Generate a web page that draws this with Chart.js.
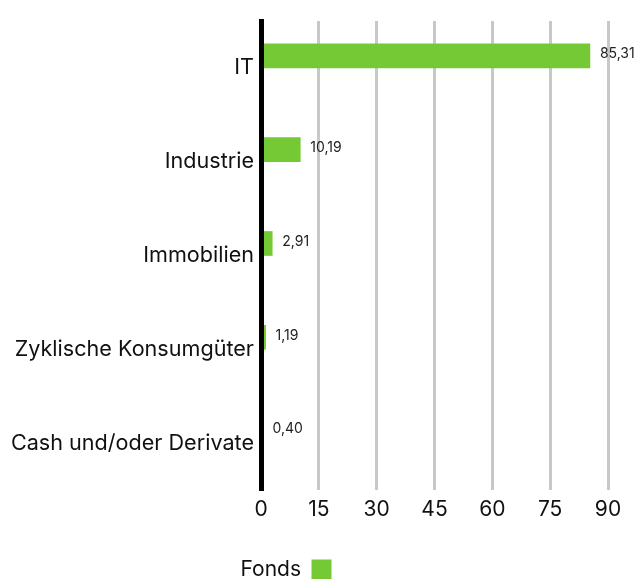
<!DOCTYPE html>
<html lang="de">
<head>
<meta charset="utf-8">
<title>Sektoren</title>
<script src="https://cdn.jsdelivr.net/npm/chart.js@4"></script>
<style>
  html, body { margin: 0; padding: 0; background: #fff; }
  #sectorChart { display: block; }
</style>
</head>
<body>
<canvas id="sectorChart" width="638" height="579"></canvas>
<script>
var sectorLabels = ["IT", "Industrie", "Immobilien", "Zyklische Konsumgüter", "Cash und/oder Derivate"];
var fondsValues = [85.31, 10.19, 2.91, 1.19, 0.40];
// comparison series has no values, it only reserves the second slot in each group
var vergleichValues = [null, null, null, null, null];
var axisTicks = [0, 15, 30, 45, 60, 75, 90];

var fontFamily = "Inter, 'Noto Sans', sans-serif";
var barGreen = "#74c935";

// number labels to the right of each bar, German decimal comma
var valueLabels = {
    id: "valueLabels",
    afterDatasetsDraw: function (chart) {
        var ctx = chart.ctx;
        var meta = chart.getDatasetMeta(0);
        ctx.save();
        ctx.font = "14px " + fontFamily;
        ctx.fillStyle = "#222";
        ctx.textAlign = "left";
        ctx.textBaseline = "middle";
        meta.data.forEach(function (bar, i) {
            var txt = fondsValues[i].toFixed(2).replace(".", ",");
            ctx.fillText(txt, bar.x + 10, bar.y - 2);
        });
        ctx.restore();
    }
};

// move the legend a bit to the left of the canvas centre
var legendShift = {
    id: "legendShift",
    afterLayout: function (chart) {
        chart.legend.left -= 18;
        chart.legend.right -= 18;
    }
};

new Chart("sectorChart", {
    type: "bar",
    data: {
        labels: sectorLabels,
        datasets: [{
            label: "Fonds",
            data: fondsValues,
            backgroundColor: barGreen,
            borderWidth: 0,
            barThickness: 24
        }, {
            label: "Vergleichsindex",
            data: vergleichValues,
            backgroundColor: "#000",
            borderWidth: 0,
            barThickness: 24
        }]
    },
    options: {
        indexAxis: "y",
        responsive: false,
        animation: false,
        events: [],
        layout: {
            padding: { top: 21, right: 30, bottom: -11, left: 0 }
        },
        scales: {
            x: {
                min: axisTicks[0],
                max: axisTicks[axisTicks.length - 1],
                ticks: {
                    stepSize: axisTicks[1] - axisTicks[0],
                    padding: 7,
                    color: "#111",
                    font: { family: fontFamily, size: 21 }
                },
                grid: { color: "#c8c8c8", lineWidth: 3, drawTicks: false },
                border: { display: false },
                afterFit: function (scale) { scale.height = 69; }
            },
            y: {
                ticks: {
                    padding: 7,
                    color: "#111",
                    font: { family: fontFamily, size: 21.6 }
                },
                grid: { display: false, drawTicks: false },
                border: { display: true, color: "#000", width: 5, z: 1 },
                afterFit: function (scale) { scale.width = 261; }
            }
        },
        plugins: {
            tooltip: { enabled: false },
            legend: {
                position: "bottom",
                rtl: true,
                labels: {
                    boxWidth: 20,
                    boxHeight: 20,
                    padding: 0,
                    color: "#111",
                    font: { family: fontFamily, size: 21 },
                    filter: function (item) { return item.datasetIndex === 0; }
                }
            }
        }
    },
    plugins: [valueLabels, legendShift]
});
</script>
</body>
</html>
